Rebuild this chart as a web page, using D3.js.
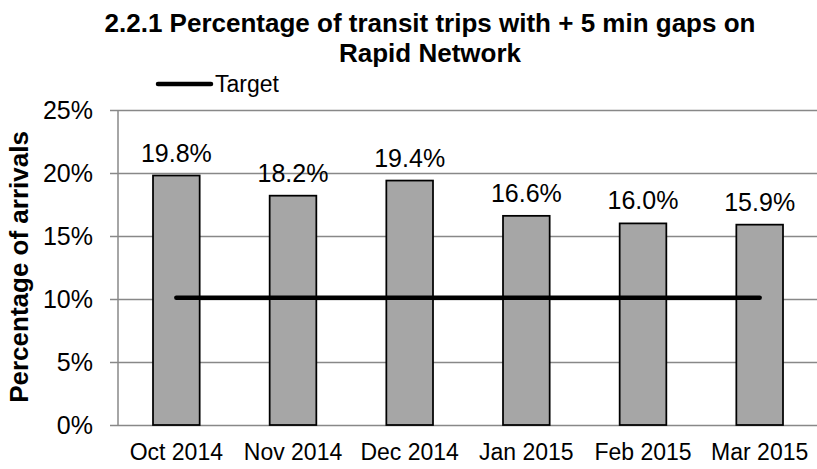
<!DOCTYPE html>
<html>
<head>
<meta charset="utf-8">
<script src="https://cdn.jsdelivr.net/npm/d3@7"></script>
<style>
  body { margin: 0; background: #fff; }
  text { font-family: "Liberation Sans", Arial, sans-serif; fill: #000; }
</style>
</head>
<body>
<svg id="chart" width="817" height="469"></svg>
<script>
// chart data
const months = ['Oct 2014', 'Nov 2014', 'Dec 2014', 'Jan 2015', 'Feb 2015', 'Mar 2015'];
const gapShare = [0.198, 0.182, 0.194, 0.166, 0.160, 0.159];
const target = [0.101, 0.101, 0.101, 0.101, 0.101, 0.101];
const yTicks = [0, 0.05, 0.10, 0.15, 0.20, 0.25];

const svg = d3.select('#chart');
const plotLeft = 118, plotRight = 818, plotTop = 110, plotBottom = 425;

const x = d3.scaleBand()
  .domain(months)
  .range([plotLeft, plotRight])
  .paddingInner(0.6)
  .paddingOuter(0.3);

const y = d3.scaleLinear()
  .domain([0, 0.25])
  .range([plotBottom, plotTop]);

// gridlines + tick labels (ticks stick out 8px past the axis)
const yAxis = svg.append('g')
  .attr('transform', `translate(${plotRight},0)`)
  .call(d3.axisLeft(y)
    .tickValues(yTicks)
    .tickSize(plotRight - plotLeft + 8)
    .tickPadding(17)
    .tickFormat(d3.format('.0%')));
yAxis.select('.domain').remove();
yAxis.selectAll('line').attr('stroke', '#888').attr('stroke-width', 1.5);
yAxis.selectAll('text')
  .attr('font-size', 25)
  .attr('font-family', '"Liberation Sans", Arial, sans-serif')
  .attr('fill', '#000');

// vertical axis line
svg.append('line')
  .attr('x1', plotLeft).attr('x2', plotLeft)
  .attr('y1', y(0.25)).attr('y2', y(0))
  .attr('stroke', '#888').attr('stroke-width', 1.5);

// category labels
const xAxis = svg.append('g')
  .attr('transform', `translate(0,${plotBottom})`)
  .call(d3.axisBottom(x).tickSize(0).tickPadding(19));
xAxis.select('.domain').remove();
xAxis.selectAll('text')
  .attr('font-size', 23)
  .attr('font-family', '"Liberation Sans", Arial, sans-serif')
  .attr('fill', '#000');

// bars
svg.selectAll('rect.bar')
  .data(gapShare)
  .enter()
  .append('rect')
  .attr('class', 'bar')
  .attr('x', (d, i) => x(months[i]))
  .attr('y', d => y(d))
  .attr('width', x.bandwidth())
  .attr('height', d => y(0) - y(d))
  .attr('fill', '#a6a6a6')
  .attr('stroke', '#000')
  .attr('stroke-width', 1.75);

// value labels
svg.selectAll('text.value')
  .data(gapShare)
  .enter()
  .append('text')
  .attr('class', 'value')
  .attr('x', (d, i) => x(months[i]) + x.bandwidth() / 2)
  .attr('y', d => y(d) - 14)
  .attr('text-anchor', 'middle')
  .attr('font-size', 25)
  .text(d => d3.format('.1%')(d));

// target line
const line = d3.line()
  .x((d, i) => x(months[i]) + x.bandwidth() / 2)
  .y(d => y(d));

svg.append('path')
  .datum(target)
  .attr('d', line)
  .attr('fill', 'none')
  .attr('stroke', '#000')
  .attr('stroke-width', 4.5)
  .attr('stroke-linecap', 'round');

// legend
svg.append('line')
  .attr('x1', 158).attr('x2', 211)
  .attr('y1', 84).attr('y2', 84)
  .attr('stroke', '#000')
  .attr('stroke-width', 4.5)
  .attr('stroke-linecap', 'round');
svg.append('text')
  .attr('x', 215)
  .attr('y', 92)
  .attr('font-size', 23)
  .text('Target');

// title
const title = svg.append('text')
  .attr('x', 430)
  .attr('text-anchor', 'middle')
  .attr('font-size', 26)
  .attr('font-weight', 'bold');
title.append('tspan').attr('x', 430).attr('y', 32)
  .text('2.2.1 Percentage of transit trips with + 5 min gaps on');
title.append('tspan').attr('x', 430).attr('y', 62)
  .text('Rapid Network');

// y axis title
svg.append('text')
  .attr('transform', 'translate(28,267) rotate(-90)')
  .attr('text-anchor', 'middle')
  .attr('font-size', 26)
  .attr('font-weight', 'bold')
  .text('Percentage of arrivals');
</script>
</body>
</html>
